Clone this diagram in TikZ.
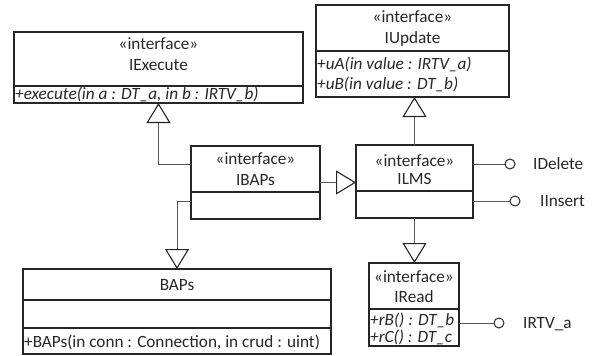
\documentclass[tikz,border=0pt]{standalone}
\usepackage{fontspec}
\setmainfont{Carlito}
\usetikzlibrary{arrows.meta}
\definecolor{ink}{HTML}{262626}
\definecolor{wire}{HTML}{595959}
\tikzset{
  umlbox/.style={draw=ink, line width=1.3pt, inner sep=0pt, outer sep=0pt, anchor=north west},
  sep/.style={draw=ink, line width=1.2pt},
  lbl/.style={inner sep=0pt, anchor=base, text=ink, font=\fontsize{17.2}{19}\selectfont},
  mth/.style={lbl, anchor=base west, font=\fontsize{17.2}{19}\selectfont\itshape},
  wirel/.style={draw=wire, line width=1pt},
  realize/.style={wirel, -{Triangle[open, length=20pt, width=24pt, color=ink, line width=1.1pt]}},
  sock/.style={circle, draw=ink, line width=1pt, minimum size=10pt, inner sep=0pt, fill=white}
}
\begin{document}
\begin{tikzpicture}[x=1pt, y=-1pt]
\useasboundingbox (0,0) rectangle (592,356);

% IExecute
\node[umlbox, minimum width=289pt, minimum height=71pt] (iexec) at (14,32) {};
\draw[sep] (iexec.west |- 0,86) -- (iexec.east |- 0,86);
\node[lbl] (iexec-st) at (158.5,49) {«interface»};
\node[lbl] (iexec-nm) at (158.5,70) {IExecute};
\node[mth] (iexec-op) at (15,99) {+execute(in a : DT\_a, in b : IRTV\_b)};

% IUpdate
\node[umlbox, minimum width=193pt, minimum height=92pt] (iupd) at (316,5) {};
\draw[sep] (iupd.west |- 0,51) -- (iupd.east |- 0,51);
\node[lbl] (iupd-st) at (412.5,23) {«interface»};
\node[lbl] (iupd-nm) at (412.5,43) {IUpdate};
\node[mth] (iupd-op1) at (317,69) {+uA(in value : IRTV\_a)};
\node[mth] (iupd-op2) at (317,89) {+uB(in value : DT\_b)};

% IBAPs
\node[umlbox, minimum width=129pt, minimum height=73pt] (ibaps) at (191,146) {};
\draw[sep] (ibaps.west |- 0,192) -- (ibaps.east |- 0,192);
\node[lbl] (ibaps-st) at (255.5,164) {«interface»};
\node[lbl] (ibaps-nm) at (255.5,185) {IBAPs};

% ILMS
\node[umlbox, minimum width=117pt, minimum height=73pt] (ilms) at (356,145) {};
\draw[sep] (ilms.west |- 0,191) -- (ilms.east |- 0,191);
\node[lbl] (ilms-st) at (414.5,166) {«interface»};
\node[lbl] (ilms-nm) at (414.5,184) {ILMS};

% BAPs
\node[umlbox, minimum width=308pt, minimum height=85pt] (baps) at (23,269) {};
\draw[sep] (baps.west |- 0,300) -- (baps.east |- 0,300);
\draw[sep] (baps.west |- 0,328) -- (baps.east |- 0,328);
\node[lbl] (baps-nm) at (177,290) {BAPs};
\node[mth, font=\fontsize{17.2}{19}\selectfont\upshape] (baps-op) at (24,347) {+BAPs(in conn : Connection, in crud : uint)};

% IRead
\node[umlbox, minimum width=90pt, minimum height=83pt] (iread) at (369,263) {};
\draw[sep] (iread.west |- 0,309) -- (iread.east |- 0,309);
\node[lbl] (iread-st) at (414,282) {«interface»};
\node[lbl] (iread-nm) at (414,302) {IRead};
\node[mth] (iread-op1) at (370,325) {+rB() : DT\_b};
\node[mth] (iread-op2) at (370,342) {+rC() : DT\_c};

% realizations
\draw[realize] (ibaps.west |- 0,164) -| (iexec.south);
\draw[realize] (ibaps.west |- 0,201) -| (baps.north);
\draw[realize] (ibaps.east) -- (ibaps.east -| ilms.west);
\draw[realize] (ilms.north) -- (ilms.north |- iupd.south);
\draw[realize] (ilms.south) -- (ilms.south |- iread.north);

% provided interfaces
\node[sock] (idel) at (510,164) {};
\node[lbl, anchor=base west] (idel-t) at (533,169) {IDelete};
\draw[wirel] (ilms.east |- idel) -- (idel.west);

\node[sock] (iins) at (515,201) {};
\node[lbl, anchor=base west] (iins-t) at (540,206) {IInsert};
\draw[wirel] (ilms.east |- iins) -- (iins.west);

\node[sock] (irtv) at (499,323) {};
\node[lbl, anchor=base west] (irtv-t) at (523,328) {IRTV\_a};
\draw[wirel] (iread.east |- irtv) -- (irtv.west);
\end{tikzpicture}
\end{document}
